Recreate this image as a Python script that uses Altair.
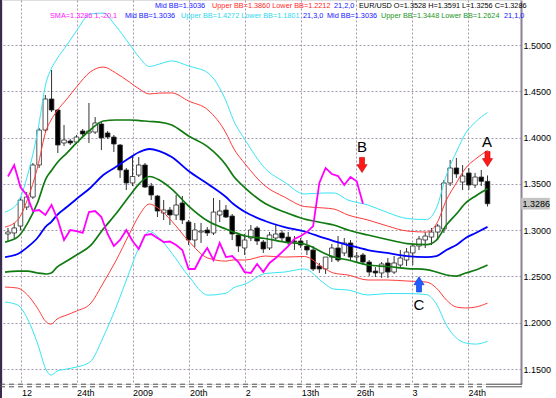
import altair as alt
import numpy as np
import pandas as pd

# ---------------- data ----------------
bar_idx = list(range(78))
opens = [1.2959, 1.2970, 1.3045, 1.3250, 1.3358, 1.3704, 1.4082, 1.4417, 1.4298, 1.3942,
         1.3963, 1.3952, 1.4071, 1.4050, 1.4060, 1.4147, 1.4050, 1.4006, 1.3920, 1.3650,
         1.3510, 1.3596, 1.3704, 1.3477, 1.3369, 1.3186, 1.3218, 1.3164, 1.3294, 1.3088,
         1.2894, 1.2980, 1.3002, 1.2970, 1.3164, 1.3218, 1.3153, 1.2948, 1.2808, 1.2916,
         1.3024, 1.2872, 1.2808, 1.2916, 1.2970, 1.2926, 1.2883, 1.2883, 1.2829, 1.2786,
         1.2613, 1.2581, 1.2710, 1.2808, 1.2754, 1.2862, 1.2710, 1.2732, 1.2656, 1.2559,
         1.2538, 1.2646, 1.2548, 1.2624, 1.2678, 1.2754, 1.2829, 1.2894, 1.2926, 1.2980,
         1.3013, 1.3510, 1.3672, 1.3520, 1.3618, 1.3488, 1.3574, 1.3528]
highs = [1.3024, 1.3078, 1.3358, 1.3412, 1.3726, 1.4104, 1.4460, 1.4730, 1.4309, 1.4136,
         1.3985, 1.4028, 1.4093, 1.4374, 1.4222, 1.4168, 1.4071, 1.4028, 1.3931, 1.3672,
         1.3790, 1.3790, 1.3726, 1.3510, 1.3380, 1.3326, 1.3250, 1.3380, 1.3369, 1.3110,
         1.3078, 1.3078, 1.3034, 1.3348, 1.3326, 1.3272, 1.3175, 1.2970, 1.2959, 1.3056,
         1.3045, 1.2894, 1.2980, 1.3056, 1.3002, 1.2980, 1.2937, 1.2916, 1.2894, 1.2829,
         1.2646, 1.2700, 1.2851, 1.2937, 1.2916, 1.2894, 1.2764, 1.2754, 1.2678, 1.2602,
         1.2656, 1.2700, 1.2721, 1.2786, 1.2808, 1.2851, 1.2937, 1.2980, 1.3024, 1.3067,
         1.3542, 1.3758, 1.3780, 1.3704, 1.3672, 1.3618, 1.3650, 1.3591]
lows = [1.2872, 1.2916, 1.3002, 1.3218, 1.3337, 1.3672, 1.4060, 1.4276, 1.3834, 1.3909,
        1.3920, 1.3931, 1.4017, 1.3942, 1.4039, 1.3866, 1.3985, 1.3844, 1.3564, 1.3434,
        1.3477, 1.3574, 1.3456, 1.3326, 1.3142, 1.3110, 1.3056, 1.3110, 1.3067, 1.2840,
        1.2818, 1.2862, 1.2937, 1.2948, 1.3088, 1.3132, 1.2894, 1.2764, 1.2732, 1.2883,
        1.2840, 1.2754, 1.2786, 1.2894, 1.2872, 1.2840, 1.2786, 1.2808, 1.2732, 1.2559,
        1.2538, 1.2527, 1.2656, 1.2656, 1.2721, 1.2678, 1.2656, 1.2624, 1.2505, 1.2494,
        1.2484, 1.2484, 1.2527, 1.2592, 1.2613, 1.2624, 1.2786, 1.2808, 1.2840, 1.2894,
        1.2970, 1.3477, 1.3564, 1.3434, 1.3434, 1.3456, 1.3477, 1.3256]
closes = [1.2980, 1.3024, 1.3326, 1.3358, 1.3704, 1.4082, 1.4417, 1.4298, 1.3920, 1.3974,
          1.3942, 1.4006, 1.4039, 1.4071, 1.4158, 1.3996, 1.4006, 1.3931, 1.3650, 1.3510,
          1.3580, 1.3704, 1.3466, 1.3380, 1.3207, 1.3218, 1.3164, 1.3272, 1.3110, 1.2894,
          1.3002, 1.2991, 1.2970, 1.3196, 1.3207, 1.3142, 1.2959, 1.2829, 1.2894, 1.3002,
          1.2883, 1.2797, 1.2948, 1.2959, 1.2916, 1.2872, 1.2878, 1.2840, 1.2786, 1.2581,
          1.2581, 1.2710, 1.2808, 1.2678, 1.2862, 1.2710, 1.2721, 1.2656, 1.2548, 1.2538,
          1.2635, 1.2548, 1.2646, 1.2700, 1.2764, 1.2829, 1.2905, 1.2937, 1.2980, 1.3045,
          1.3510, 1.3672, 1.3607, 1.3585, 1.3488, 1.3574, 1.3528, 1.3286]

# Bollinger (21) middle line and one deviation, read at sample bars
band_bar = [-0.47, 1.57, 3.15, 4.72, 6.14, 6.93, 7.87, 9.45, 11.0, 13.2,
            15.3, 17.3, 19.5, 21.1, 22.7, 24.3, 26.3, 29.0, 32.1, 35.0,
            36.2, 38.1, 41.3, 44.4, 47.6, 50.7, 52.3, 54.6, 57.8, 60.9,
            64.1, 67.2, 68.8, 70.4, 72.0, 73.5, 75.1, 77.0]
band_mid = [1.2710, 1.2743, 1.2818, 1.2916, 1.3045, 1.3088, 1.3164, 1.3250, 1.3337, 1.3456,
            1.3596, 1.3682, 1.3780, 1.3844, 1.3877, 1.3855, 1.3790, 1.3639, 1.3499, 1.3358,
            1.3283, 1.3196, 1.3099, 1.3034, 1.2986, 1.2916, 1.2883, 1.2840, 1.2786, 1.2754,
            1.2721, 1.2710, 1.2721, 1.2786, 1.2840, 1.2916, 1.2970, 1.3036]
band_sd = [0.0162, 0.0184, 0.0259, 0.0378, 0.0518, 0.0551, 0.0562, 0.0583, 0.0605, 0.0626,
           0.0583, 0.0508, 0.0410, 0.0340, 0.0297, 0.0313, 0.0346, 0.0378, 0.0400, 0.0346,
           0.0302, 0.0259, 0.0189, 0.0162, 0.0135, 0.0162, 0.0173, 0.0162, 0.0162, 0.0146,
           0.0135, 0.0135, 0.0173, 0.0270, 0.0335, 0.0378, 0.0400, 0.0412]

# SMA(1) shifted -20 bars (values are the closes)
sma_shift = 20

# axis ticks
x_tick_bars = [2.16, 11.02, 20.0, 29.13, 38.11, 47.09, 55.91, 64.88, 73.86]
x_tick_labels = ["12", "24th", "2009", "20th", "2", "13th", "26th", "3", "24th"]
y_ticks = [1.15, 1.20, 1.25, 1.30, 1.35, 1.40, 1.45, 1.50]

# annotations
ann_text = ["A", "B", "C"]
ann_text_bar = [76.9, 56.85, 66.0]
ann_text_price = [1.3950, 1.3898, 1.2192]
arrow_dir = ["down", "down", "up"]
arrow_bar = [77.0, 56.85, 66.0]
arrow_price = [1.3769, 1.3704, 1.2415]

header1 = [("Mid BB=1.3036", "#1414ff"),
           ("Upper BB=1.3860 Lower BB=1.2212", "#ff2a2a"),
           ("21,2,0", "#1414ff"),
           ("EUR/USD O=1.3528 H=1.3591 L=1.3256 C=1.3286", "#000000")]
header2 = [("SMA=1.3286  1,-20,1", "#ff14ff"),
           ("Mid BB=1.3036", "#1414ff"),
           ("Upper BB=1.4272 Lower BB=1.1801", "#30d8ee"),
           ("21,3,0", "#1414ff"),
           ("Mid BB=1.3036", "#1414ff"),
           ("Upper BB=1.3448 Lower BB=1.2624", "#1e961e"),
           ("21,1,0", "#1414ff")]

# ---------------- tables ----------------
cdf = pd.DataFrame({"bar": bar_idx, "open": opens, "high": highs, "low": lows, "close": closes})
cdf["dir"] = np.where(cdf["close"] >= cdf["open"], "up", "down")

bdf = pd.DataFrame({"bar": band_bar, "mid": band_mid, "sd": band_sd})
band_defs = [("up3", 3, "#38e4f4", 1.0), ("lo3", -3, "#38e4f4", 1.0),
             ("up2", 2, "#ff3a3a", 1.0), ("lo2", -2, "#ff3a3a", 1.0),
             ("up1", 1, "#107a10", 1.7), ("lo1", -1, "#107a10", 1.7),
             ("mid", 0, "#0000ff", 1.8)]
for name, k, _, _ in band_defs:
    bdf[name] = bdf["mid"] + k * bdf["sd"]

mdf = pd.DataFrame({"bar": bar_idx[:len(closes) - sma_shift], "sma": closes[sma_shift:]})

ann_df = pd.DataFrame({"t": ann_text, "bar": ann_text_bar, "price": ann_text_price})
arr_df = pd.DataFrame({"dir": arrow_dir, "bar": arrow_bar, "price": arrow_price})
last_df = pd.DataFrame({"price": [closes[-1]]})

# ---------------- chart ----------------
FONT = "Liberation Sans"
W, H = 519, 384
xs = alt.Scale(domain=[-0.1575, 81.575], nice=False, zero=False)
ys = alt.Scale(domain=[1.1339, 1.5486], nice=False, zero=False)

label_expr = "[" + ",".join("'%s'" % s for s in x_tick_labels) + "][indexof([" + \
    ",".join(str(v) for v in x_tick_bars) + "], datum.value)]"

xaxis = alt.Axis(values=x_tick_bars, labelExpr=label_expr, grid=True, gridColor="#a596b0",
                 gridDash=[2, 2], gridWidth=1, ticks=False, domain=False, labelAlign="left",
                 labelPadding=4, labelFontSize=9, labelColor="#000000", labelFont=FONT,
                 title=None, labelFlush=False, labelOverlap=False)
yaxis = alt.Axis(orient="right", values=y_ticks, format=".4f", grid=True, gridColor="#a596b0",
                 gridDash=[2, 2], gridWidth=1, ticks=False, domain=True, domainColor="#8c8096",
                 domainWidth=2, labelPadding=2, labelFontSize=9, labelColor="#000000",
                 labelFont=FONT, title=None, labelOverlap=False, labelFlush=False)


def X(field="bar:Q"):
    return alt.X(field, scale=xs, axis=xaxis)


def Y(field):
    return alt.Y(field, scale=ys, axis=yaxis)


layers = []
layers.append(alt.Chart(cdf).mark_rule(color="#333333", strokeWidth=1).encode(
    x=X(), y=Y("low:Q"), y2="high:Q"))
layers.append(alt.Chart(cdf).mark_bar(size=4.6, stroke="#2a2a2a", strokeWidth=0.8).encode(
    x=X(), y=Y("open:Q"), y2="close:Q",
    fill=alt.Fill("dir:N", scale=alt.Scale(domain=["up", "down"], range=["#ffffff", "#000000"]),
                  legend=None)))

for name, k, col, wd in band_defs:
    layers.append(alt.Chart(bdf).mark_line(color=col, strokeWidth=wd, interpolate="monotone",
                                           clip=True).encode(x=X(), y=Y(name + ":Q")))

layers.append(alt.Chart(mdf).mark_line(color="#ff00ff", strokeWidth=1.8, clip=True).encode(
    x=X(), y=Y("sma:Q")))

down_path = "M-0.33,-1 L0.33,-1 L0.33,-0.05 L0.67,-0.05 L0,1 L-0.67,-0.05 L-0.33,-0.05 Z"
up_path = "M-0.33,1 L0.33,1 L0.33,0.05 L0.67,0.05 L0,-1 L-0.67,0.05 L-0.33,0.05 Z"
layers.append(alt.Chart(arr_df).transform_filter(alt.datum.dir == "down").mark_point(
    shape=down_path, filled=True, size=230, opacity=1, fill="#ff1a1a", fillOpacity=1,
    stroke="#c00000", strokeWidth=0.6).encode(x=X(), y=Y("price:Q")))
layers.append(alt.Chart(arr_df).transform_filter(alt.datum.dir == "up").mark_point(
    shape=up_path, filled=True, size=230, opacity=1, fill="#1f5fff", fillOpacity=1,
    stroke="#0036c0", strokeWidth=0.6).encode(x=X(), y=Y("price:Q")))

layers.append(alt.Chart(ann_df).mark_text(fontSize=15, font=FONT, color="#000000",
                                          baseline="middle", align="center").encode(
    x=X(), y=Y("price:Q"), text="t:N"))

# current price tag on the right axis
box_path = "M-1,-0.41 L1,-0.41 L1,0.41 L-1,0.41 Z"
layers.append(alt.Chart(last_df).mark_point(shape=box_path, filled=True, size=818, color="#c4c4c4",
                                            opacity=1).encode(
    x=alt.value(W + 14.5), y=Y("price:Q")))
layers.append(alt.Chart(last_df).mark_text(align="left", baseline="middle", fontSize=9, font=FONT,
                                           color="#000000").encode(
    x=alt.value(W + 1.5), y=Y("price:Q"), text=alt.Text("price:Q", format=".4f")))


def header_text(txt, px, py, col):
    return alt.Chart(pd.DataFrame({"t": [txt]})).mark_text(
        align="left", baseline="middle", fontSize=7.3, font=FONT, color=col).encode(
        text="t:N", x=alt.value(px), y=alt.value(py))


h1_x = [153, 210, 332, 357]
h2_x = [48, 123, 179, 301, 325, 379, 502]
for (t, c), px in zip(header1, h1_x):
    layers.append(header_text(t, px, 5.5, c))
for (t, c), px in zip(header2, h2_x):
    layers.append(header_text(t, px, 16, c))

# frame decorations
one = pd.DataFrame({"a": [0]})
layers.append(alt.Chart(one).mark_rule(color="#3d2b4f", strokeWidth=2).encode(
    x=alt.value(-1), y=alt.value(0), y2=alt.value(398)))
for yy in (384.2, 386.8):
    layers.append(alt.Chart(one).mark_rule(color="#505050", strokeWidth=1, strokeDash=[5, 4]).encode(
        x=alt.value(-2), x2=alt.value(489), y=alt.value(yy)))
    layers.append(alt.Chart(one).mark_rule(color="#505050", strokeWidth=1).encode(
        x=alt.value(489), x2=alt.value(W + 1), y=alt.value(yy)))

chart = alt.layer(*layers).properties(
    width=W, height=H,
    autosize=alt.AutoSizeParams(type="none"),
    padding={"left": 2, "top": 0, "right": 35, "bottom": 14},
    background="#ffffff",
).configure_view(stroke=None).configure(font=FONT)

chart.save("out.html", embed_options={"renderer": "svg", "actions": False})
